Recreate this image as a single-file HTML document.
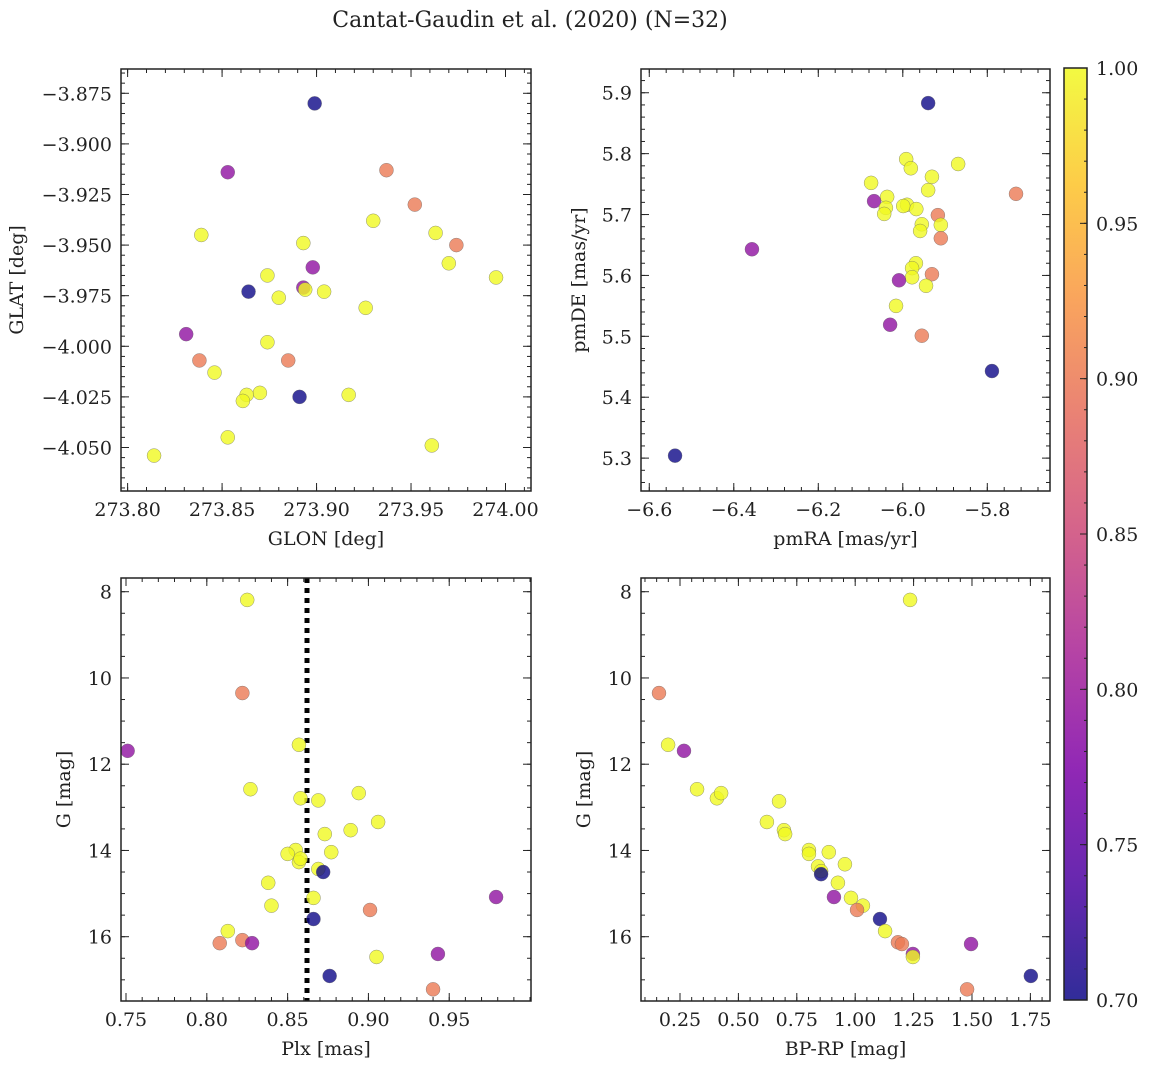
<!DOCTYPE html>
<html><head><meta charset="utf-8"><style>
html,body{margin:0;padding:0;background:#fff;}
svg text{font-family:"DejaVu Serif","Liberation Serif",serif;fill:#222;}
</style></head><body>
<svg id="chart" width="1149" height="1068" viewBox="0 0 1149 1068" xmlns="http://www.w3.org/2000/svg">
<defs><linearGradient id="plasma" x1="0" y1="1" x2="0" y2="0">
<stop offset="0" stop-color="#0d0887"/><stop offset="0.125" stop-color="#4c02a1"/><stop offset="0.25" stop-color="#7e03a8"/><stop offset="0.375" stop-color="#a92395"/><stop offset="0.5" stop-color="#cc4778"/><stop offset="0.625" stop-color="#e56b5d"/><stop offset="0.75" stop-color="#f89441"/><stop offset="0.875" stop-color="#fdc328"/><stop offset="1" stop-color="#f0f921"/></linearGradient></defs>
<text x="530" y="27" text-anchor="middle" font-size="22">Cantat-Gaudin et al. (2020) (N=32)</text>
</svg>
<script>
// ---- data ----
const p1Glon=[273.899,273.853,273.937,273.952,273.839,273.930,273.963,273.974,273.893,273.898,273.970,273.995,273.874,273.864,273.880,273.893,273.894,273.904,273.926,273.831,273.874,273.838,273.885,273.846,273.870,273.863,273.861,273.891,273.917,273.853,273.961,273.814];
const p1Glat=[-3.880,-3.914,-3.913,-3.930,-3.945,-3.938,-3.944,-3.950,-3.949,-3.961,-3.959,-3.966,-3.965,-3.973,-3.976,-3.971,-3.972,-3.973,-3.981,-3.994,-3.998,-4.007,-4.007,-4.013,-4.023,-4.024,-4.027,-4.025,-4.024,-4.045,-4.049,-4.054];
const p1Prob=[0.70,0.79,0.90,0.90,1,1,1,0.90,1,0.79,1,1,1,0.70,1,0.79,1,1,1,0.79,1,0.90,0.90,1,1,1,1,0.70,1,1,1,1];

const p2PmRA=[-5.940,-5.869,-5.992,-5.981,-5.931,-6.075,-5.940,-6.037,-5.732,-5.990,-5.968,-6.068,-6.040,-6.044,-5.917,-5.955,-5.910,-5.959,-5.910,-6.357,-5.969,-5.978,-5.978,-5.931,-6.009,-5.945,-6.016,-6.030,-5.955,-5.789,-6.539,-5.999];
const p2PmDE=[5.883,5.783,5.791,5.776,5.762,5.752,5.740,5.729,5.734,5.716,5.709,5.722,5.711,5.701,5.699,5.684,5.683,5.673,5.661,5.643,5.620,5.612,5.597,5.602,5.592,5.583,5.550,5.519,5.501,5.443,5.304,5.714];
const p2Prob=[0.70,1,1,1,1,1,1,1,0.90,1,1,0.79,1,1,0.90,1,1,1,0.90,0.79,1,1,1,0.90,0.79,1,1,0.79,0.90,0.70,0.70,1];

const p3Plx=[0.825,0.822,0.751,0.857,0.827,0.858,0.869,0.894,0.906,0.873,0.889,0.855,0.850,0.857,0.877,0.869,0.872,0.838,0.840,0.866,0.901,0.979,0.866,0.813,0.808,0.822,0.828,0.943,0.905,0.876,0.940,0.858];
const p3G=[8.19,10.35,11.69,11.55,12.58,12.79,12.84,12.67,13.34,13.62,13.53,13.99,14.08,14.27,14.04,14.43,14.50,14.75,15.28,15.10,15.38,15.08,15.59,15.87,16.15,16.08,16.15,16.40,16.47,16.91,17.22,14.19];
const p3Prob=[1,0.90,0.79,1,1,1,1,1,1,1,1,1,1,1,1,1,0.70,1,1,1,0.90,0.79,0.70,1,0.90,0.90,0.79,0.79,1,0.70,0.90,1];
const meanPlx=0.862;

const p4BpRp=[1.235,0.160,0.199,0.267,0.323,0.408,0.426,0.674,0.622,0.695,0.700,0.802,0.802,0.887,0.956,0.841,0.854,0.854,0.926,0.909,0.982,1.033,1.008,1.106,1.128,1.183,1.200,1.247,1.247,1.496,1.752,1.479];
const p4G=[8.19,10.35,11.55,11.69,12.58,12.79,12.67,12.86,13.34,13.53,13.62,13.99,14.08,14.04,14.32,14.37,14.48,14.55,14.75,15.08,15.10,15.28,15.38,15.59,15.87,16.13,16.17,16.40,16.47,16.17,16.91,17.22];
const p4Prob=[1,0.90,1,0.79,1,1,1,1,1,1,1,1,1,1,1,1,1,0.70,1,0.79,1,1,0.90,0.70,1,0.90,0.90,0.79,1,0.79,0.70,0.90];

const cbTicks=[0.70,0.75,0.80,0.85,0.90,0.95,1.00];

// ---- helpers ----
const NS="http://www.w3.org/2000/svg";
const svg=document.getElementById('chart');
const FS=19;
function mk(tag,attrs,parent){const e=document.createElementNS(NS,tag);for(const k in attrs)e.setAttribute(k,attrs[k]);(parent||svg).appendChild(e);return e;}
const stops=[[0,[13,8,135]],[0.125,[76,2,161]],[0.25,[126,3,168]],[0.375,[169,35,149]],[0.5,[204,71,120]],[0.625,[229,107,93]],[0.75,[248,148,65]],[0.875,[253,195,40]],[1,[240,249,33]]];
function plasma(v){let t=Math.max(0,Math.min(1,(v-0.7)/0.3));for(let i=1;i<stops.length;i++){if(t<=stops[i][0]){const a=stops[i-1],b=stops[i];const f=(t-a[0])/(b[0]-a[0]);const c=a[1].map((x,j)=>Math.round(x+(b[1][j]-x)*f));return `rgb(${c.join(',')})`;}}return 'rgb(240,249,33)';}

function panel(cfg){
  const g=mk('g',{});
  
  
  const {L,T,R,B}=cfg;
  const sx=v=>L+(v-cfg.x0)/(cfg.x1-cfg.x0)*(R-L);
  const sy=v=>cfg.yInv? T+(v-cfg.y0)/(cfg.y1-cfg.y0)*(B-T) : B-(v-cfg.y0)/(cfg.y1-cfg.y0)*(B-T);
  const tk=mk('g',{stroke:'#222','stroke-width':1},g);
  
  
  for(let v=cfg.xmStart;v<=cfg.x1+1e-9;v+=cfg.xm){if(v<cfg.x0)continue;const x=sx(v);mk('line',{x1:x,x2:x,y1:B,y2:B-4},tk);mk('line',{x1:x,x2:x,y1:T,y2:T+4},tk);}
  const ylo=Math.min(cfg.y0,cfg.y1),yhi=Math.max(cfg.y0,cfg.y1);
  for(let v=cfg.ymStart;v<=yhi+1e-9;v+=cfg.ym){if(v<ylo)continue;const y=sy(v);mk('line',{x1:L,x2:L+4,y1:y,y2:y},tk);mk('line',{x1:R,x2:R-4,y1:y,y2:y},tk);}
  cfg.xt.forEach((v,i)=>{const x=sx(v);mk('line',{x1:x,x2:x,y1:B,y2:B-8},tk);mk('line',{x1:x,x2:x,y1:T,y2:T+8},tk);
    const t=mk('text',{x:x,y:B+25,'text-anchor':'middle','font-size':FS},g);t.textContent=cfg.xtl[i];
    
    });
  cfg.yt.forEach((v,i)=>{const y=sy(v);mk('line',{x1:L,x2:L+8,y1:y,y2:y},tk);mk('line',{x1:R,x2:R-8,y1:y,y2:y},tk);
    const t=mk('text',{x:L-9,y:y+7,'text-anchor':'end','font-size':FS},g);t.textContent=cfg.ytl[i];
    
    });
  if(cfg.vline!==undefined){const x=sx(cfg.vline);const l=mk('line',{x1:x,x2:x,y1:T,y2:B,stroke:'#000','stroke-width':5,'stroke-dasharray':'5 5'},g);
    
    }
  cfg.xs.forEach((v,i)=>{const c=mk('circle',{cx:sx(v),cy:sy(cfg.ys[i]),r:7,fill:plasma(cfg.pr[i]),'fill-opacity':0.8,stroke:'#666','stroke-width':0.5,'stroke-opacity':0.7},g);
    
    });
  const fr=mk('rect',{x:L,y:T,width:R-L,height:B-T,fill:'none',stroke:'#222','stroke-width':1.5},g);
  
  
  const xl=mk('text',{x:(L+R)/2,y:B+54,'text-anchor':'middle','font-size':FS},g);xl.textContent=cfg.xlabel;
  
  
  const yx=cfg.ylx, yy=(T+B)/2;
  const yl=mk('text',{x:yx,y:yy,'text-anchor':'middle','font-size':FS,transform:`rotate(-90 ${yx} ${yy})`},g);yl.textContent=cfg.ylabel;
  
  
}

panel({name:'glon-glat-panel',L:121,T:69,R:531,B:491,x0:273.7965,x1:274.0135,y0:-4.0715,y1:-3.863,
  xt:[273.80,273.85,273.90,273.95,274.00],xtl:['273.80','273.85','273.90','273.95','274.00'],xm:0.01,xmStart:273.80,
  yt:[-3.875,-3.9,-3.925,-3.95,-3.975,-4.0,-4.025,-4.05],ytl:['\u22123.875','\u22123.900','\u22123.925','\u22123.950','\u22123.975','\u22124.000','\u22124.025','\u22124.050'],ym:0.005,ymStart:-4.07,
  xs:p1Glon,ys:p1Glat,pr:p1Prob,xlabel:'GLON [deg]',ylabel:'GLAT [deg]',ylx:23});
panel({name:'proper-motion-panel',L:641,T:69,R:1050,B:491,x0:-6.6196,x1:-5.6516,y0:5.246,y1:5.939,
  xt:[-6.6,-6.4,-6.2,-6.0,-5.8],xtl:['\u22126.6','\u22126.4','\u22126.2','\u22126.0','\u22125.8'],xm:0.04,xmStart:-6.6,
  yt:[5.3,5.4,5.5,5.6,5.7,5.8,5.9],ytl:['5.3','5.4','5.5','5.6','5.7','5.8','5.9'],ym:0.02,ymStart:5.26,
  xs:p2PmRA,ys:p2PmDE,pr:p2Prob,xlabel:'pmRA [mas/yr]',ylabel:'pmDE [mas/yr]',ylx:585});
panel({name:'parallax-magnitude-panel',L:121,T:578,R:531,B:1001,x0:0.7469,x1:1.0006,y0:7.682,y1:17.491,yInv:true,
  xt:[0.75,0.80,0.85,0.90,0.95],xtl:['0.75','0.80','0.85','0.90','0.95'],xm:0.01,xmStart:0.75,
  yt:[8,10,12,14,16],ytl:['8','10','12','14','16'],ym:0.5,ymStart:8,
  xs:p3Plx,ys:p3G,pr:p3Prob,vline:meanPlx,xlabel:'Plx [mas]',ylabel:'G [mag]',ylx:70});
panel({name:'color-magnitude-panel',L:641,T:578,R:1050,B:1001,x0:0.083,x1:1.834,y0:7.682,y1:17.491,yInv:true,
  xt:[0.25,0.5,0.75,1.0,1.25,1.5,1.75],xtl:['0.25','0.50','0.75','1.00','1.25','1.50','1.75'],xm:0.05,xmStart:0.1,
  yt:[8,10,12,14,16],ytl:['8','10','12','14','16'],ym:0.5,ymStart:8,
  xs:p4BpRp,ys:p4G,pr:p4Prob,xlabel:'BP-RP [mag]',ylabel:'G [mag]',ylx:590});

// colorbar
const cb=mk('g',{});


const CT=68,CB=1000,CL=1064,CR=1087;
mk('rect',{x:CL,y:CT,width:CR-CL,height:CB-CT,fill:'url(#plasma)','fill-opacity':0.85},cb);
mk('rect',{x:CL,y:CT,width:CR-CL,height:CB-CT,fill:'none',stroke:'#222','stroke-width':1.5},cb);
const cy=v=>CB-(v-0.7)/0.3*(CB-CT);
for(let v=0.71;v<1.0;v+=0.01){const y=cy(v);mk('line',{x1:CR,x2:CR-3,y1:y,y2:y,stroke:'#222','stroke-width':1},cb);}
cbTicks.forEach(v=>{const y=cy(v);mk('line',{x1:CR,x2:CR-7,y1:y,y2:y,stroke:'#222','stroke-width':1},cb);
  const t=mk('text',{x:CR+9,y:y+7,'font-size':FS},cb);t.textContent=v.toFixed(2);
  
  });
</script>
</body></html>
